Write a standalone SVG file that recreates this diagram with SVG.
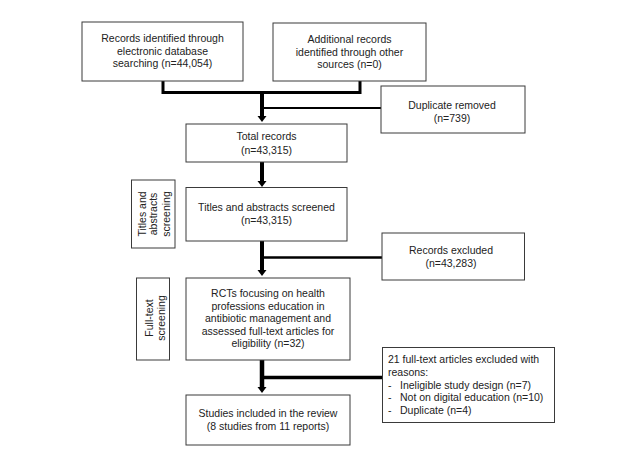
<svg xmlns="http://www.w3.org/2000/svg" width="633" height="466" viewBox="0 0 633 466">
<defs>
<style>
.box{fill:#fff;stroke:#3a3a3a;stroke-width:1}
.t{font-family:"Liberation Sans",Arial,sans-serif;font-size:10.5px;fill:#222;text-anchor:middle}
.l{text-anchor:start}
.c{fill:none;stroke:#000;stroke-linecap:butt}
</style>
<marker id="ah" markerUnits="userSpaceOnUse" markerWidth="7" markerHeight="10" refX="0" refY="4.5" orient="auto" overflow="visible">
<path d="M0,0 L6,4.5 L0,9 z" fill="#000"/>
</marker>
</defs>
<rect width="633" height="466" fill="#fff"/>
<g id="connectors">
<path class="c" stroke-width="3" d="M163,81 V92.5 M360,81 V92.5 M161.5,92.5 H361.5"/>
<path class="c" stroke-width="4" d="M262,91 V116" marker-end="url(#ah)"/>
<path class="c" stroke-width="2" d="M262,108 H381"/>
<path class="c" stroke-width="4" d="M262,162 V181" marker-end="url(#ah)"/>
<path class="c" stroke-width="4" d="M262,241 V270" marker-end="url(#ah)"/>
<path class="c" stroke-width="2.5" d="M262,257.5 H382"/>
<path class="c" stroke-width="4.5" d="M262,360 V387" marker-end="url(#ah)"/>
<path class="c" stroke-width="3.5" d="M262,377.5 H382.5"/>
</g>
<g id="n1">
<rect class="box" x="82" y="22" width="161" height="59"/>
<text class="t" x="162.5" y="41.5">Records identified through</text>
<text class="t" x="162.5" y="54.5">electronic database</text>
<text class="t" x="162.5" y="67">searching (n=44,054)</text>
</g>
<g id="n2">
<rect class="box" x="273" y="23" width="153" height="58"/>
<text class="t" x="349.5" y="43">Additional records</text>
<text class="t" x="349.5" y="56">identified through  other</text>
<text class="t" x="349.5" y="68">sources (n=0)</text>
</g>
<g id="n3">
<rect class="box" x="381" y="86" width="144" height="47"/>
<text class="t" x="452" y="109">Duplicate removed</text>
<text class="t" x="452" y="121.5">(n=739)</text>
</g>
<g id="n4">
<rect class="box" x="186" y="124" width="161" height="38"/>
<text class="t" x="266.5" y="140">Total records</text>
<text class="t" x="266.5" y="153.5">(n=43,315)</text>
</g>
<g id="s1">
<rect class="box" x="131.5" y="180" width="43.5" height="68"/>
<text class="t" transform="translate(145.5,214) rotate(-90)">Titles and</text>
<text class="t" transform="translate(157,214) rotate(-90)">abstracts</text>
<text class="t" transform="translate(169.5,214) rotate(-90)">screening</text>
</g>
<g id="n5">
<rect class="box" x="186" y="187.5" width="161" height="53.5"/>
<text class="t" x="266.5" y="211">Titles and abstracts screened</text>
<text class="t" x="266.5" y="224">(n=43,315)</text>
</g>
<g id="n6">
<rect class="box" x="382" y="233" width="142.5" height="47"/>
<text class="t" x="451" y="254">Records excluded</text>
<text class="t" x="451" y="266.5">(n=43,283)</text>
</g>
<g id="s2">
<rect class="box" x="136.5" y="278" width="33" height="82"/>
<text class="t" transform="translate(152.5,318) rotate(-90)">Full-text</text>
<text class="t" transform="translate(164.5,318) rotate(-90)">screening</text>
</g>
<g id="n7">
<rect class="box" x="186" y="278" width="164" height="82"/>
<text class="t" x="268" y="296.5">RCTs focusing on health</text>
<text class="t" x="268" y="309.5">professions education in</text>
<text class="t" x="268" y="322">antibiotic management  and</text>
<text class="t" x="268" y="334.5">assessed full-text  articles for</text>
<text class="t" x="268" y="347">eligibility (n=32)</text>
</g>
<g id="n8">
<rect class="box" x="382.5" y="347.5" width="172" height="75"/>
<text class="t l" x="388" y="363">21 full-text  articles excluded with</text>
<text class="t l" x="388" y="376">reasons:</text>
<text class="t l" x="388" y="388.5">-</text>
<text class="t l" x="400" y="388.5">Ineligible study design (n=7)</text>
<text class="t l" x="388" y="401">-</text>
<text class="t l" x="400" y="401">Not on digital education (n=10)</text>
<text class="t l" x="388" y="414">-</text>
<text class="t l" x="400" y="414">Duplicate (n=4)</text>
</g>
<g id="n9">
<rect class="box" x="186" y="395" width="164" height="50"/>
<text class="t" x="268" y="417">Studies included in the review</text>
<text class="t" x="268" y="430">(8 studies from 11 reports)</text>
</g>
</svg>
